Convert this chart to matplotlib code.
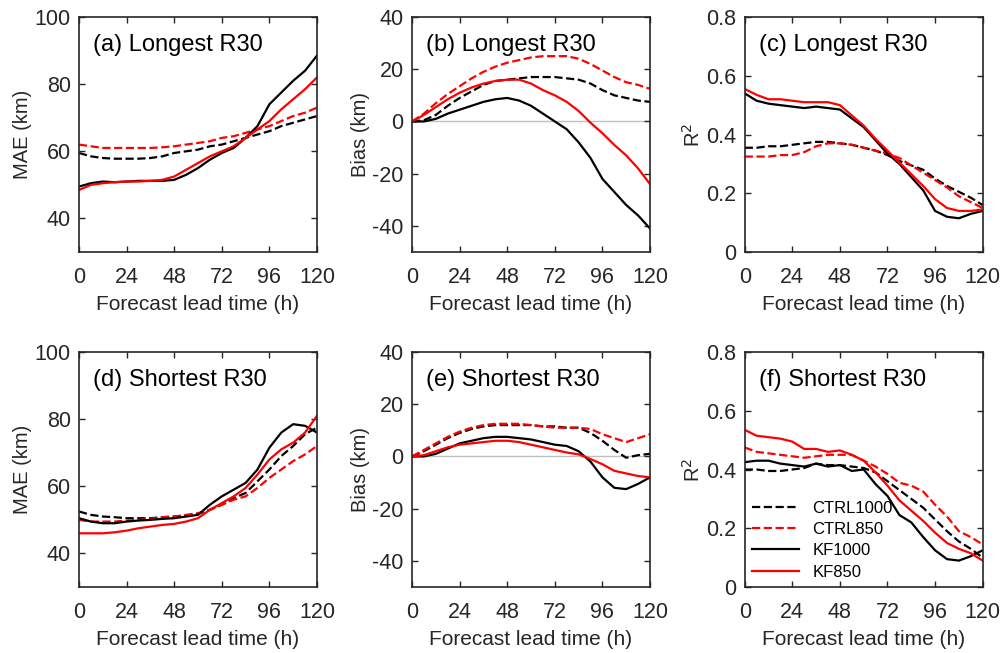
import numpy as np
import matplotlib
matplotlib.use("Agg")
import matplotlib.pyplot as plt

plt.rcParams['font.family'] = ['Liberation Sans', 'DejaVu Sans']
plt.rcParams['axes.unicode_minus'] = False

# Forecast lead times (h), every 6 h
lead = np.arange(0, 121, 6)

# (a) MAE, longest R30
mae_long_ctrl1000 = [59.5, 58.5, 58.0, 57.8, 57.8, 57.8, 58.0, 58.5, 59.5, 60.0, 60.5,
                     61.5, 62.0, 63.0, 64.0, 65.0, 66.0, 67.5, 68.5, 69.5, 70.5]
mae_long_ctrl850 = [62.0, 61.5, 61.0, 61.0, 61.0, 61.0, 61.0, 61.2, 61.5, 62.0, 62.5,
                    63.0, 64.0, 64.5, 65.5, 66.5, 67.5, 69.0, 70.5, 71.5, 73.0]
mae_long_kf1000 = [49.5, 50.5, 51.0, 50.8, 51.0, 51.2, 51.2, 51.2, 51.5, 53.0, 55.0,
                   57.5, 59.5, 61.0, 64.0, 67.5, 74.0, 77.5, 81.0, 84.0, 88.5]
mae_long_kf850 = [48.5, 50.0, 50.5, 50.8, 51.0, 51.0, 51.2, 51.5, 52.5, 54.5, 56.5,
                  58.5, 60.0, 61.5, 64.0, 66.5, 69.0, 72.5, 75.5, 78.5, 82.0]

# (b) Bias, longest R30
bias_long_ctrl1000 = [0.0, 0.5, 2.5, 6.0, 9.0, 11.5, 14.0, 15.5, 16.0, 16.5, 17.0,
                      17.0, 17.0, 16.5, 16.0, 14.5, 12.0, 10.0, 9.0, 8.0, 7.5]
bias_long_ctrl850 = [0.0, 3.0, 7.0, 10.5, 13.5, 16.5, 19.0, 21.0, 22.5, 23.5, 24.5,
                     25.0, 25.0, 25.0, 24.0, 22.0, 19.5, 17.0, 15.0, 14.0, 12.5]
bias_long_kf1000 = [0.0, 0.0, 1.0, 3.0, 4.5, 6.0, 7.5, 8.5, 9.0, 8.0, 6.0,
                    3.0, 0.0, -3.0, -8.0, -14.0, -22.0, -27.0, -32.0, -36.0, -41.0]
bias_long_kf850 = [0.0, 2.5, 5.5, 8.5, 11.0, 13.0, 14.5, 15.5, 16.0, 16.0, 14.5,
                   12.0, 10.0, 7.5, 4.0, -0.5, -4.5, -9.0, -13.0, -18.0, -24.0]

# (c) R2, longest R30
r2_long_ctrl1000 = [0.355, 0.355, 0.36, 0.36, 0.365, 0.37, 0.375, 0.375, 0.37, 0.365, 0.355,
                    0.345, 0.33, 0.31, 0.295, 0.28, 0.25, 0.225, 0.205, 0.185, 0.16]
r2_long_ctrl850 = [0.325, 0.325, 0.325, 0.33, 0.33, 0.34, 0.36, 0.37, 0.37, 0.365, 0.355,
                   0.345, 0.335, 0.32, 0.295, 0.27, 0.245, 0.22, 0.19, 0.17, 0.15]
r2_long_kf1000 = [0.54, 0.515, 0.505, 0.50, 0.495, 0.49, 0.495, 0.49, 0.485, 0.455, 0.425,
                  0.38, 0.335, 0.30, 0.255, 0.21, 0.14, 0.12, 0.115, 0.13, 0.14]
r2_long_kf850 = [0.555, 0.535, 0.52, 0.52, 0.515, 0.51, 0.51, 0.51, 0.50, 0.465, 0.43,
                 0.385, 0.345, 0.305, 0.265, 0.225, 0.18, 0.15, 0.14, 0.14, 0.145]

# (d) MAE, shortest R30
mae_short_ctrl1000 = [52.5, 51.5, 51.0, 50.8, 50.5, 50.5, 50.5, 50.8, 51.0, 51.3, 51.8,
                      53.0, 54.5, 56.5, 58.0, 61.5, 65.0, 69.0, 72.0, 75.5, 77.5]
mae_short_ctrl850 = [50.0, 49.5, 49.5, 49.5, 49.8, 50.0, 50.3, 50.8, 51.0, 51.5, 52.0,
                     53.0, 54.5, 56.0, 57.0, 59.5, 62.5, 65.0, 67.5, 69.5, 72.0]
mae_short_kf1000 = [50.5, 49.5, 49.0, 49.0, 49.5, 49.8, 50.0, 50.3, 50.5, 51.0, 51.5,
                    54.5, 57.0, 59.0, 61.0, 65.0, 71.5, 76.0, 78.5, 78.0, 76.0]
mae_short_kf850 = [46.0, 46.0, 46.0, 46.3, 46.8, 47.5, 48.0, 48.5, 48.8, 49.5, 50.5,
                   53.0, 55.0, 57.0, 59.5, 63.5, 68.0, 71.0, 73.0, 76.0, 81.0]

# (e) Bias, shortest R30
bias_short_ctrl1000 = [0.0, 2.0, 4.5, 7.0, 9.0, 10.5, 11.5, 12.0, 12.0, 12.0, 12.0,
                       11.5, 11.5, 11.0, 11.0, 9.0, 6.0, 2.5, -0.5, 0.5, 1.0]
bias_short_ctrl850 = [0.0, 2.5, 5.0, 7.5, 9.5, 11.0, 12.0, 12.5, 12.5, 12.5, 12.0,
                      11.5, 11.0, 11.0, 11.0, 10.5, 8.5, 7.0, 5.5, 7.0, 8.5]
bias_short_kf1000 = [0.0, 0.0, 1.0, 3.0, 5.0, 6.0, 7.0, 7.5, 7.5, 7.0, 6.5,
                     5.5, 4.5, 4.0, 2.0, -2.0, -8.0, -12.0, -12.5, -10.5, -8.0]
bias_short_kf850 = [0.0, 0.5, 2.0, 3.5, 4.5, 5.0, 5.5, 6.0, 6.0, 5.5, 4.5,
                    3.5, 2.5, 1.5, 0.8, -1.0, -3.0, -5.5, -6.5, -7.5, -8.0]

# (f) R2, shortest R30
r2_short_ctrl1000 = [0.40, 0.40, 0.395, 0.395, 0.40, 0.405, 0.42, 0.415, 0.415, 0.41, 0.405,
                     0.39, 0.36, 0.33, 0.30, 0.27, 0.23, 0.19, 0.155, 0.13, 0.10]
r2_short_ctrl850 = [0.475, 0.46, 0.455, 0.45, 0.445, 0.44, 0.445, 0.45, 0.45, 0.45, 0.43,
                    0.41, 0.385, 0.355, 0.345, 0.325, 0.28, 0.24, 0.19, 0.17, 0.145]
r2_short_kf1000 = [0.425, 0.43, 0.43, 0.42, 0.415, 0.41, 0.42, 0.41, 0.415, 0.395, 0.40,
                   0.35, 0.31, 0.245, 0.22, 0.17, 0.125, 0.095, 0.09, 0.105, 0.125]
r2_short_kf850 = [0.535, 0.515, 0.51, 0.505, 0.495, 0.47, 0.47, 0.46, 0.465, 0.45, 0.43,
                  0.39, 0.345, 0.295, 0.26, 0.225, 0.185, 0.15, 0.13, 0.115, 0.09]

exp_names = ['CTRL1000', 'CTRL850', 'KF1000', 'KF850']
exp_colors = ['black', 'red', 'black', 'red']
exp_styles = ['--', '--', '-', '-']

panels = [
    ('(a) Longest R30', 'MAE (km)', (30, 100), [40, 60, 80, 100],
     [mae_long_ctrl1000, mae_long_ctrl850, mae_long_kf1000, mae_long_kf850]),
    ('(b) Longest R30', 'Bias (km)', (-50, 40), [-40, -20, 0, 20, 40],
     [bias_long_ctrl1000, bias_long_ctrl850, bias_long_kf1000, bias_long_kf850]),
    ('(c) Longest R30', 'R$^2$', (0, 0.8), [0, 0.2, 0.4, 0.6, 0.8],
     [r2_long_ctrl1000, r2_long_ctrl850, r2_long_kf1000, r2_long_kf850]),
    ('(d) Shortest R30', 'MAE (km)', (30, 100), [40, 60, 80, 100],
     [mae_short_ctrl1000, mae_short_ctrl850, mae_short_kf1000, mae_short_kf850]),
    ('(e) Shortest R30', 'Bias (km)', (-50, 40), [-40, -20, 0, 20, 40],
     [bias_short_ctrl1000, bias_short_ctrl850, bias_short_kf1000, bias_short_kf850]),
    ('(f) Shortest R30', 'R$^2$', (0, 0.8), [0, 0.2, 0.4, 0.6, 0.8],
     [r2_short_ctrl1000, r2_short_ctrl850, r2_short_kf1000, r2_short_kf850]),
]

fig = plt.figure(figsize=(10.05, 6.53), dpi=100)
lefts = [0.0786, 0.41, 0.741]
bottoms = [0.614, 0.101]
w, h = 0.2368, 0.36
frame_col = '#262626'

for k, (title, ylab, ylim, yticks, series) in enumerate(panels):
    ax = fig.add_axes([lefts[k % 3], bottoms[k // 3], w, h])
    if ylab.startswith('Bias'):
        ax.axhline(0, color='#c0c0c0', lw=1.0, zorder=1)
    for vals, name, c, ls in zip(series, exp_names, exp_colors, exp_styles):
        ax.plot(lead, vals, color=c, ls=ls, lw=1.6, label=name, zorder=2)
    ax.set_xlim(0, 120)
    ax.set_ylim(*ylim)
    ax.set_xticks(np.arange(0, 121, 24))
    ax.set_yticks(yticks)
    if ylab.startswith('R'):
        ax.set_yticklabels(['0' if t == 0 else f'{t:.1f}' for t in yticks])
    ax.tick_params(direction='in', top=True, right=True, length=4, width=1,
                   labelsize=15.5, colors=frame_col, labelcolor=frame_col)
    ax.tick_params(axis='x', pad=11)
    ax.tick_params(axis='y', pad=6)
    for sp in ax.spines.values():
        sp.set_color(frame_col)
        sp.set_linewidth(1.2)
    ax.set_ylabel(ylab, fontsize=14.5, color=frame_col, labelpad=2)
    ax.set_xlabel('Forecast lead time (h)', fontsize=15, color=frame_col, labelpad=5)
    ax.text(0.06, 0.88, title, transform=ax.transAxes, fontsize=17,
            color='black', va='center', ha='left')
    if k == 5:
        ax.legend(loc='lower left', bbox_to_anchor=(0.0, 0.0), frameon=False,
                  fontsize=12, handlelength=2.8, labelspacing=0.38,
                  borderaxespad=0.05)

fig.savefig('out.png', dpi=100)
